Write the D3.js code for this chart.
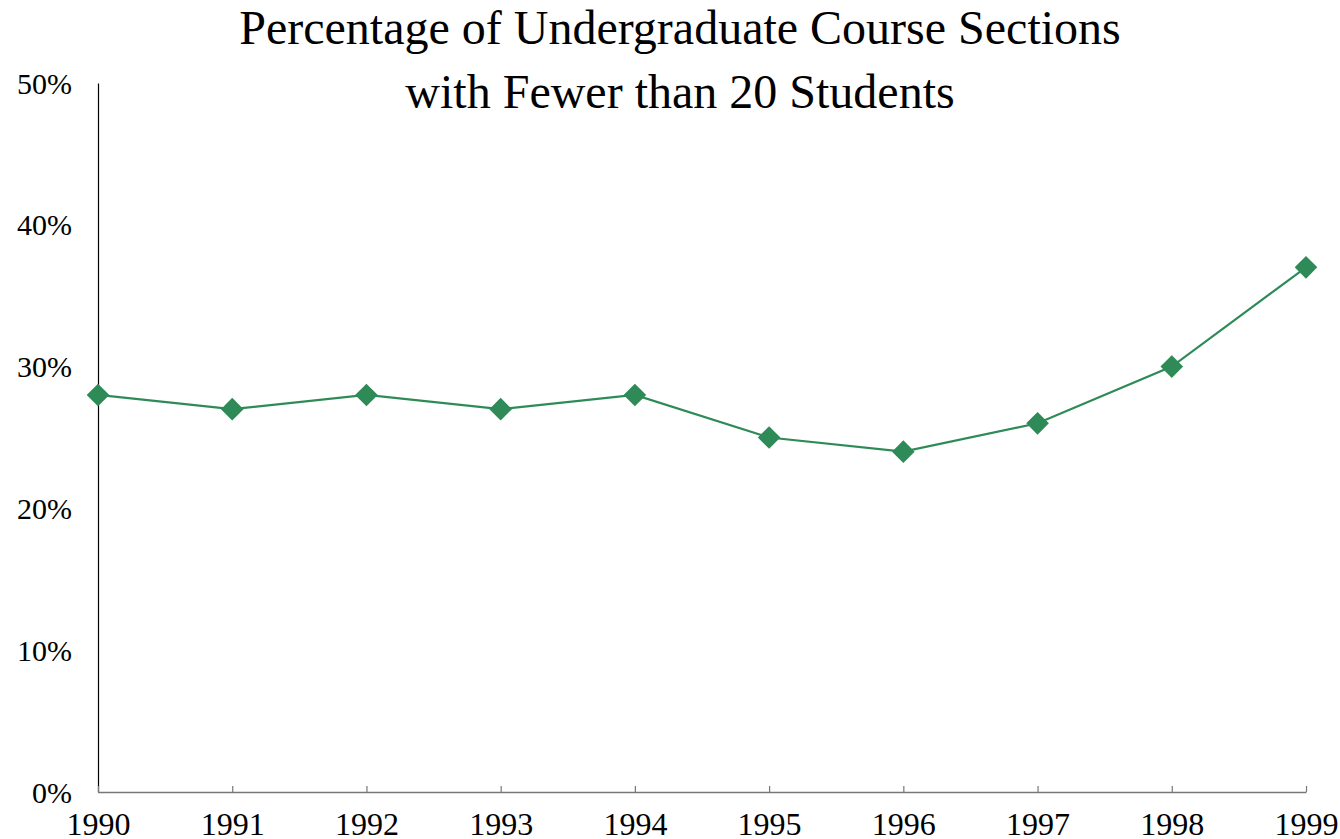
<html lang="en">
<head>
  <meta charset="utf-8" />
  <script src="https://d3js.org/d3.v7.min.js"></script>
  <style>
    body { margin: 0; background: #fff; }
    text { font-family: "Liberation Serif", "Times New Roman", serif; fill: #000; }
  </style>
</head>
<body>
  <div id="chart"></div>
  <script>
    const years = [1990, 1991, 1992, 1993, 1994, 1995, 1996, 1997, 1998, 1999];
    const percents = [28, 27, 28, 27, 28, 25, 24, 26, 30, 37];
    const yTicks = [0, 10, 20, 30, 40, 50];
    const titleLines = ["Percentage of Undergraduate Course Sections", "with Fewer than 20 Students"];

    const width = 1340, height = 839;
    const margin = { left: 98, right: 1306, top: 83, bottom: 792 };
    const green = "#2e8b57";

    const svg = d3.select("#chart").append("svg")
      .attr("width", width).attr("height", height);

    const x = d3.scalePoint().domain(years).range([margin.left, margin.right]);
    const y = d3.scaleLinear().domain([0, 50]).range([margin.bottom, margin.top]);

    // title
    svg.selectAll("text.title").data(titleLines).enter().append("text")
      .attr("class", "title")
      .attr("x", 680).attr("y", (d, i) => 44 + i * 64)
      .attr("text-anchor", "middle")
      .style("font-size", "48px")
      .text(d => d);

    // y axis: line only, labels to the left
    const yAxis = svg.append("g").attr("transform", `translate(${margin.left},0)`)
      .call(d3.axisLeft(y).tickValues(yTicks).tickSize(0).tickPadding(26).tickFormat(d => d + "%"));
    yAxis.select(".domain").attr("stroke", "#000").attr("stroke-width", 1.2);
    yAxis.selectAll("text").style("font-size", "30px").attr("dy", 0).attr("y", 10);

    // x axis: grey line with small upward ticks
    const xAxis = svg.append("g").attr("transform", `translate(0,${margin.bottom})`)
      .call(d3.axisBottom(x).tickSize(-6).tickSizeOuter(0));
    xAxis.select(".domain").attr("stroke", "#777").attr("stroke-width", 1.5);
    xAxis.selectAll(".tick line").attr("stroke", "#777").attr("stroke-width", 1.2);
    xAxis.selectAll("text").style("font-size", "32px").attr("dy", 0).attr("y", 43);

    const pts = years.map((yr, i) => [yr, percents[i]]);

    svg.append("path")
      .datum(pts)
      .attr("fill", "none")
      .attr("stroke", green)
      .attr("stroke-width", 2.2)
      .attr("d", d3.line().x(d => x(d[0])).y(d => y(d[1])));

    svg.selectAll("path.marker").data(pts).enter().append("path")
      .attr("class", "marker")
      .attr("fill", green)
      .attr("transform", d => `translate(${x(d[0])},${y(d[1])}) rotate(45)`)
      .attr("d", d3.symbol().type(d3.symbolSquare).size(256));
  </script>
</body>
</html>
